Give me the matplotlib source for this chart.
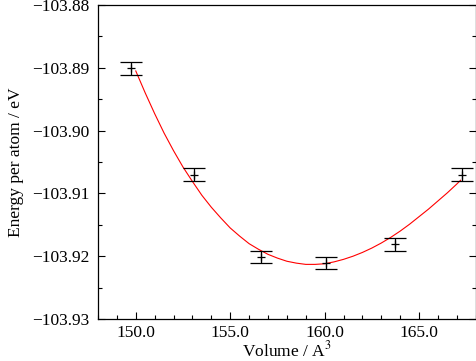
import numpy as np
import matplotlib
matplotlib.use("Agg")
import matplotlib.pyplot as plt
from matplotlib.ticker import MultipleLocator, FuncFormatter

plt.rcParams['font.family'] = ['Liberation Serif', 'DejaVu Serif']
plt.rcParams['mathtext.fontset'] = 'stix'

# calculated points with error bars
volume = [149.77, 153.10, 156.64, 160.07, 163.70, 167.26]
energy = [-103.8901, -103.9070, -103.9201, -103.9211, -103.9181, -103.9070]
energy_err = [0.001, 0.001, 0.001, 0.001, 0.001, 0.001]

# fitted curve
fit_volume = [150.0, 150.5, 151.0, 151.5, 152.0, 152.5, 153.0, 153.5, 154.0,
              154.5, 155.0, 155.5, 156.0, 156.5, 157.0, 157.5, 158.0, 158.5,
              159.0, 159.5, 160.0, 160.5, 161.0, 161.5, 162.0, 162.5, 163.0,
              163.5, 164.0, 164.5, 165.0, 165.5, 166.0, 166.5, 167.0, 167.2]
fit_energy = [-103.8905, -103.8940, -103.8973, -103.9004, -103.9032, -103.9058,
              -103.9081, -103.9103, -103.9122, -103.9139, -103.9155, -103.9168,
              -103.9180, -103.9189, -103.9197, -103.9203, -103.9208, -103.9211,
              -103.9213, -103.9213, -103.9212, -103.9209, -103.9205, -103.9200,
              -103.9194, -103.9187, -103.9179, -103.9170, -103.9160, -103.9149,
              -103.9137, -103.9125, -103.9112, -103.9099, -103.9085, -103.9079]

fig = plt.figure(figsize=(4.76, 3.61), dpi=100)
ax = fig.add_axes([0.2059, 0.1163, 0.7935, 0.8698])

ax.plot(fit_volume, fit_energy, color='red', lw=0.8, zorder=2)
ax.errorbar(volume, energy, yerr=energy_err, fmt='+', color='black',
            ms=6, mew=0.9, elinewidth=0.9, capsize=8, capthick=0.9, zorder=3)

ax.set_xlim(148, 168)
ax.set_ylim(-103.93, -103.88)
ax.xaxis.set_major_locator(MultipleLocator(5))
ax.xaxis.set_minor_locator(MultipleLocator(1))
ax.yaxis.set_major_locator(MultipleLocator(0.01))
ax.yaxis.set_minor_locator(MultipleLocator(0.005))
ax.xaxis.set_major_formatter(FuncFormatter(lambda v, p: f'{v:.1f}'))
ax.yaxis.set_major_formatter(
    FuncFormatter(lambda v, p: f'{v:.2f}'.replace('-', '\u2212')))

ax.tick_params(which='both', direction='in', top=False, right=True,
               labelsize=12.5, width=0.8)
ax.tick_params(which='major', length=5, pad=6)
ax.tick_params(axis='x', which='major', pad=4)
ax.tick_params(which='minor', length=3)
for s in ax.spines.values():
    s.set_linewidth(0.9)

ax.set_xlabel('Volume / A$^{3}$', fontsize=12.5, labelpad=0)
ax.set_ylabel('Energy per atom / eV', fontsize=12.5, labelpad=6)

fig.savefig('out.png', dpi=100)
